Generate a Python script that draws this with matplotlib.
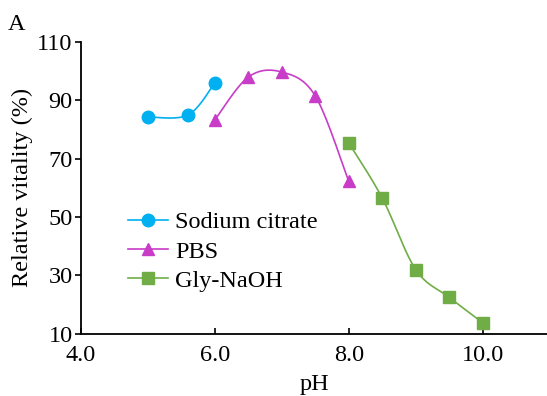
import matplotlib
matplotlib.use("Agg")
import matplotlib.pyplot as plt
import numpy as np

plt.rcParams['font.family'] = ['Liberation Serif', 'DejaVu Serif']

# data
ph_citrate = [5.0, 5.6, 6.0]
act_citrate = [84.3, 85.0, 96.0]

ph_pbs = [6.0, 6.5, 7.0, 7.5, 8.0]
act_pbs = [83.3, 98.0, 99.7, 91.5, 62.2]

ph_gly = [8.0, 8.5, 9.0, 9.5, 10.0]
act_gly = [75.4, 56.5, 32.0, 22.5, 13.8]

xticks = [4.0, 6.0, 8.0, 10.0]
yticks = [10, 30, 50, 70, 90, 110]


def smooth(x, y, n=40):
    # Excel-style smoothed line (Catmull-Rom bezier), only for drawing the connector
    x = np.asarray(x, float)
    y = np.asarray(y, float)
    px = np.concatenate([[x[0]], x, [x[-1]]])
    py = np.concatenate([[y[0]], y, [y[-1]]])
    xs, ys = [], []
    t = np.linspace(0, 1, n)
    for i in range(1, len(px) - 2):
        p0 = np.array([px[i], py[i]])
        p3 = np.array([px[i + 1], py[i + 1]])
        p1 = p0 + (np.array([px[i + 1], py[i + 1]]) - np.array([px[i - 1], py[i - 1]])) / 6
        p2 = p3 - (np.array([px[i + 2], py[i + 2]]) - np.array([px[i], py[i]])) / 6
        seg = ((1 - t) ** 3)[:, None] * p0 + (3 * (1 - t) ** 2 * t)[:, None] * p1 \
            + (3 * (1 - t) * t ** 2)[:, None] * p2 + (t ** 3)[:, None] * p3
        xs.extend(seg[:, 0])
        ys.extend(seg[:, 1])
    return xs, ys


fig = plt.figure(figsize=(5.47, 3.96), dpi=100)
ax = fig.add_axes([0.148, 0.157, 0.852, 0.737])

series = [
    (ph_citrate, act_citrate, '#00b0f0', 'o', 'Sodium citrate'),
    (ph_pbs, act_pbs, '#c83cc8', '^', 'PBS'),
    (ph_gly, act_gly, '#70ad47', 's', 'Gly-NaOH'),
]
for x, y, c, m, lab in series:
    xs, ys = smooth(x, y)
    ax.plot(xs, ys, color=c, lw=1.2)
    ax.plot(x, y, linestyle='none', marker=m, color=c, markersize=9)
    ax.plot([], [], color=c, marker=m, markersize=9, lw=1.2, label=lab)

ax.set_xlim(4.0, 10.96)
ax.set_ylim(10, 110)
ax.set_xticks(xticks)
ax.set_xticklabels([f"{v:.1f}" for v in xticks])
ax.set_yticks(yticks)
ax.spines['top'].set_visible(False)
ax.spines['right'].set_visible(False)
ax.spines['left'].set_linewidth(1.3)
ax.spines['bottom'].set_linewidth(1.3)
ax.tick_params(axis='y', direction='out', length=4, width=1.2, labelsize=17.5, pad=2)
ax.tick_params(axis='x', direction='in', length=4, width=1.2, labelsize=17.5, pad=8)

ax.set_xlabel('pH', fontsize=17.5, labelpad=6)
ax.set_ylabel('Relative vitality (%)', fontsize=17.5, labelpad=3)

ax.legend(loc='upper left', bbox_to_anchor=(0.101, 0.42), frameon=False, fontsize=17.5,
          handlelength=1.65, handletextpad=0.3, labelspacing=0.3, borderpad=0,
          borderaxespad=0)

fig.text(0.015, 0.925, 'A', fontsize=17.5)

fig.savefig('out.png', dpi=100)
